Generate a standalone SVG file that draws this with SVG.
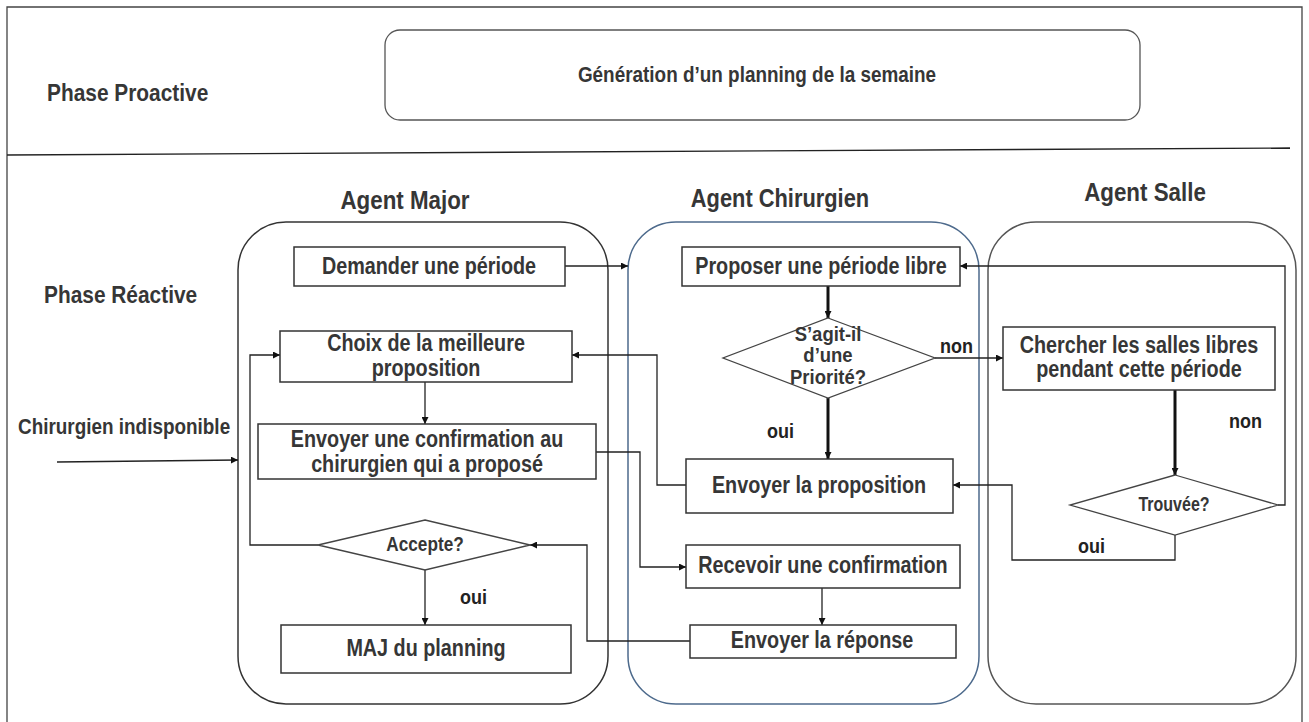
<svg xmlns="http://www.w3.org/2000/svg" width="1309" height="722" viewBox="0 0 1309 722">
  <style>
    text { font-family: "Liberation Sans", Arial, sans-serif; font-weight: bold; fill: #363636; }
    .mid { text-anchor: middle; }
    .box { fill: #fff; stroke: #333; stroke-width: 1.5; }
    .dia { fill: #fff; stroke: #444; stroke-width: 1.3; }
    .lane { fill: none; stroke-width: 1.5; }
    .conn { fill: none; stroke: #222; stroke-width: 1.3; }
    .thick { fill: none; stroke: #111; stroke-width: 3; }
    .t-box { font-size: 23px; }
    .t-head { font-size: 26px; }
    .t-dia { font-size: 20px; }
    .t-lbl { font-size: 20px; fill: #222; }
  </style>
  <defs>
    <marker id="arr" viewBox="0 0 10 10" refX="10" refY="5" markerWidth="7" markerHeight="7" markerUnits="userSpaceOnUse" orient="auto">
      <path d="M0,0 L10,5 L0,10 z" fill="#111"/>
    </marker>
  </defs>

  <rect width="1309" height="722" fill="#fff"/>

  <!-- outer frame and phase separator -->
  <g id="frame">
    <path d="M7,730 V7 H1302 V730" fill="none" stroke="#444" stroke-width="1.3"/>
    <line x1="7" y1="155" x2="1290" y2="148" stroke="#222" stroke-width="1.3"/>
    <text transform="translate(47,101) scale(0.87,1)" style="font-size:24px">Phase Proactive</text>
    <text transform="translate(44,303) scale(0.87,1)" style="font-size:24px">Phase Réactive</text>
    <text transform="translate(18,434) scale(0.86,1)" style="font-size:22px">Chirurgien indisponible</text>
  </g>

  <g id="planning-semaine">
    <rect x="385" y="30" width="755" height="90" rx="15" fill="#fff" stroke="#555" stroke-width="1.3"/>
    <text transform="translate(757,82) scale(0.86,1)" class="mid" style="font-size:22px">Génération d’un planning de la semaine</text>
  </g>

  <!-- swimlanes -->
  <g id="agent-major">
    <rect x="238" y="222" width="370" height="482" rx="48" class="lane" stroke="#333"/>
    <text transform="translate(405,209) scale(0.86,1)" class="mid t-head">Agent Major</text>
  </g>
  <g id="agent-chirurgien">
    <rect x="628" y="222" width="351" height="482" rx="48" class="lane" stroke="#4d6a8c"/>
    <text transform="translate(780,207) scale(0.84,1)" class="mid t-head">Agent Chirurgien</text>
  </g>
  <g id="agent-salle">
    <rect x="988" y="222" width="308" height="482" rx="48" class="lane" stroke="#555"/>
    <text transform="translate(1145,201) scale(0.86,1)" class="mid t-head">Agent Salle</text>
  </g>

  <!-- connectors -->
  <g id="connectors">
    <line x1="57" y1="462" x2="238" y2="460" class="conn" marker-end="url(#arr)"/>
    <line x1="565" y1="266" x2="628" y2="266" class="conn" marker-end="url(#arr)"/>
    <line x1="828" y1="286" x2="828" y2="318" class="thick" marker-end="url(#arr)"/>
    <line x1="828" y1="398" x2="828" y2="459" class="thick" marker-end="url(#arr)"/>
    <line x1="935" y1="358" x2="1003" y2="358" class="conn" marker-end="url(#arr)"/>
    <line x1="1175" y1="390" x2="1175" y2="475" class="thick" marker-end="url(#arr)"/>
    <polyline points="1278,505 1285,505 1285,266 960,266" class="conn" marker-end="url(#arr)"/>
    <polyline points="1175,535 1175,560 1012,560 1012,485 953,485" class="conn" marker-end="url(#arr)"/>
    <polyline points="686,485 657,485 657,355 572,355" class="conn" marker-end="url(#arr)"/>
    <line x1="425" y1="382" x2="425" y2="424" class="conn" marker-end="url(#arr)"/>
    <polyline points="596,452 640,452 640,567 686,567" class="conn" marker-end="url(#arr)"/>
    <polyline points="690,641 587,641 587,545 530,545" class="conn" marker-end="url(#arr)"/>
    <polyline points="318,545 250,545 250,355 280,355" class="conn" marker-end="url(#arr)"/>
    <line x1="425" y1="570" x2="425" y2="625" class="conn" marker-end="url(#arr)"/>
    <line x1="822" y1="588" x2="822" y2="625" class="conn" marker-end="url(#arr)"/>
    <text transform="translate(767,438) scale(0.9,1)" class="t-lbl">oui</text>
    <text transform="translate(940,353) scale(0.9,1)" class="t-lbl">non</text>
    <text transform="translate(1229,428) scale(0.9,1)" class="t-lbl">non</text>
    <text transform="translate(1078,553) scale(0.9,1)" class="t-lbl">oui</text>
    <text transform="translate(460,604) scale(0.9,1)" class="t-lbl">oui</text>
  </g>

  <!-- Agent Major steps -->
  <g id="demander-periode">
    <rect x="294" y="247" width="271" height="39" class="box"/>
    <text transform="translate(429,274) scale(0.86,1)" class="mid t-box">Demander une période</text>
  </g>
  <g id="choix-proposition">
    <rect x="280" y="331" width="292" height="51" class="box"/>
    <text transform="translate(426,351) scale(0.86,1)" class="mid t-box">Choix de la meilleure</text>
    <text transform="translate(426,376) scale(0.86,1)" class="mid t-box">proposition</text>
  </g>
  <g id="envoyer-confirmation">
    <rect x="258" y="424" width="338" height="55" class="box"/>
    <text transform="translate(427,447) scale(0.86,1)" class="mid t-box">Envoyer une confirmation au</text>
    <text transform="translate(427,472) scale(0.86,1)" class="mid t-box">chirurgien qui a proposé</text>
  </g>
  <g id="accepte">
    <polygon points="425,520 530,545 425,570 318,545" class="dia"/>
    <text transform="translate(425,551) scale(0.86,1)" class="mid t-dia">Accepte?</text>
  </g>
  <g id="maj-planning">
    <rect x="281" y="625" width="290" height="48" class="box"/>
    <text transform="translate(426,656) scale(0.86,1)" class="mid t-box">MAJ du planning</text>
  </g>

  <!-- Agent Chirurgien steps -->
  <g id="proposer-periode">
    <rect x="682" y="247" width="278" height="39" class="box"/>
    <text transform="translate(821,274) scale(0.86,1)" class="mid t-box">Proposer une période libre</text>
  </g>
  <g id="priorite">
    <polygon points="828,318 935,358 828,398 723,358" class="dia"/>
    <text transform="translate(828,341) scale(0.88,1)" class="mid" style="font-size:21px">S’agit-il</text>
    <text transform="translate(828,362) scale(0.88,1)" class="mid" style="font-size:21px">d’une</text>
    <text transform="translate(828,384) scale(0.88,1)" class="mid" style="font-size:21px">Priorité?</text>
  </g>
  <g id="envoyer-proposition">
    <rect x="686" y="459" width="267" height="54" class="box"/>
    <text transform="translate(819,493) scale(0.86,1)" class="mid t-box">Envoyer la proposition</text>
  </g>
  <g id="recevoir-confirmation">
    <rect x="686" y="545" width="274" height="43" class="box"/>
    <text transform="translate(823,573) scale(0.86,1)" class="mid t-box">Recevoir une confirmation</text>
  </g>
  <g id="envoyer-reponse">
    <rect x="690" y="625" width="266" height="33" class="box"/>
    <text transform="translate(822,648) scale(0.86,1)" class="mid t-box">Envoyer la réponse</text>
  </g>

  <!-- Agent Salle steps -->
  <g id="chercher-salles">
    <rect x="1003" y="327" width="272" height="63" class="box"/>
    <text transform="translate(1139,353) scale(0.86,1)" class="mid t-box">Chercher les salles libres</text>
    <text transform="translate(1139,377) scale(0.86,1)" class="mid t-box">pendant cette période</text>
  </g>
  <g id="trouvee">
    <polygon points="1175,475 1278,505 1175,535 1070,505" class="dia"/>
    <text transform="translate(1174,511) scale(0.8,1)" class="mid t-dia">Trouvée?</text>
  </g>
</svg>
